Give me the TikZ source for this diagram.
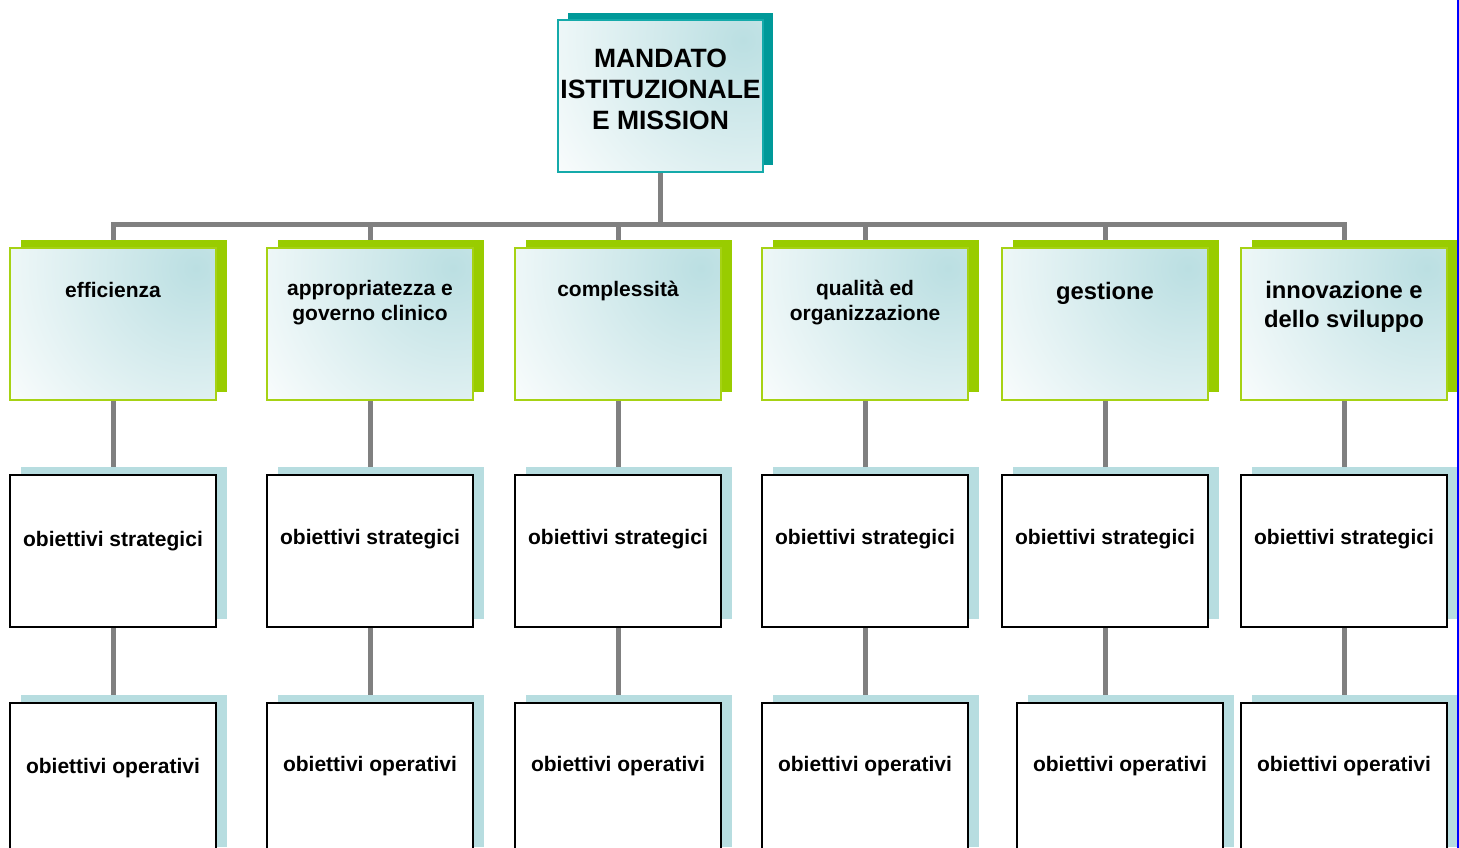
\documentclass[tikz,border=0pt]{standalone}
\usepackage{fontspec}
\setmainfont{Liberation Sans}
\usetikzlibrary{shadows,calc}
\definecolor{tealshadow}{RGB}{0,153,153}
\definecolor{tealborder}{RGB}{20,170,170}
\definecolor{greenc}{RGB}{153,204,0}
\definecolor{greenborder}{RGB}{166,210,20}
\definecolor{lightshadow}{RGB}{183,221,224}
\definecolor{gradblue}{RGB}{187,223,226}
\definecolor{linegray}{RGB}{128,128,128}
\pgfdeclarelayer{background}
\pgfsetlayers{background,main}
\tikzset{
  base box/.style={rectangle, minimum width=206pt, minimum height=152pt, inner sep=0pt},
  glow/.style={fill=white, path picture={
      \shade[inner color=gradblue, outer color=white]
        ([shift={(-20pt,-20pt)}]path picture bounding box.north east) circle (250pt);}},
  topbox/.style={base box, minimum width=205pt, draw=tealborder, line width=1.5pt, glow,
    general shadow={fill=tealshadow, shadow xshift=10pt, shadow yshift=7pt}},
  greenbox/.style={base box, draw=greenborder, line width=1.6pt, glow,
    general shadow={fill=greenc, shadow xshift=11pt, shadow yshift=8pt}},
  blackbox/.style={base box, draw=black, line width=1.8pt, fill=white,
    general shadow={fill=lightshadow, shadow xshift=11pt, shadow yshift=8pt}},
  lbl/.style={anchor=base, align=center, inner sep=0pt, text=black},
  fbig/.style={font=\fontsize{26.5}{31}\selectfont\bfseries},
  fmid/.style={font=\fontsize{21}{25}\selectfont\bfseries},
  flarge/.style={font=\fontsize{23.8}{29}\selectfont\bfseries},
  conn/.style={draw=linegray, line width=5pt},
}
\begin{document}
\begin{tikzpicture}[x=1pt,y=-1pt]
\useasboundingbox (0,0) rectangle (1459,848);

% top box
\node[topbox] (top) at (660.5,96) {};
\node[lbl,fbig] (ttop) at ($(top.north)+(0,110)$) {MANDATO\\ISTITUZIONALE\\E MISSION};

% green boxes
\node[greenbox] (g1) at (113,324) {};
\node[greenbox] (g2) at (370,324) {};
\node[greenbox] (g3) at (618,324) {};
\node[greenbox] (g4) at (865,324) {};
\node[greenbox] (g5) at (1105,324) {};
\node[greenbox] (g6) at (1344,324) {};

\node[lbl,fmid] (tg1) at ($(g1.north)+(0,50)$) {efficienza};
\node[lbl,fmid] (tg2) at ($(g2.north)+(0,73)$) {appropriatezza e\\governo clinico};
\node[lbl,fmid] (tg3) at ($(g3.north)+(0,49)$) {complessità};
\node[lbl,fmid] (tg4) at ($(g4.north)+(0,73)$) {qualità ed\\organizzazione};
\node[lbl,flarge] (tg5) at ($(g5.north)+(0,52)$) {gestione};
\node[lbl,flarge] (tg6) at ($(g6.north)+(0,80)$) {innovazione e\\dello sviluppo};

% strategic boxes
\node[blackbox] (s1) at (113,551) {};
\node[blackbox] (s2) at (370,551) {};
\node[blackbox] (s3) at (618,551) {};
\node[blackbox] (s4) at (865,551) {};
\node[blackbox] (s5) at (1105,551) {};
\node[blackbox] (s6) at (1344,551) {};
\node[lbl,fmid] (ts1) at ($(s1.north)+(0,72)$) {obiettivi strategici};
\node[lbl,fmid] (ts2) at ($(s2.north)+(0,70)$) {obiettivi strategici};
\node[lbl,fmid] (ts3) at ($(s3.north)+(0,70)$) {obiettivi strategici};
\node[lbl,fmid] (ts4) at ($(s4.north)+(0,70)$) {obiettivi strategici};
\node[lbl,fmid] (ts5) at ($(s5.north)+(0,70)$) {obiettivi strategici};
\node[lbl,fmid] (ts6) at ($(s6.north)+(0,70)$) {obiettivi strategici};

% operative boxes
\node[blackbox] (o1) at (113,779) {};
\node[blackbox] (o2) at (370,779) {};
\node[blackbox] (o3) at (618,779) {};
\node[blackbox] (o4) at (865,779) {};
\node[blackbox] (o5) at (1120,779) {};
\node[blackbox] (o6) at (1344,779) {};
\node[lbl,fmid] (to1) at ($(o1.north)+(0,71)$) {obiettivi operativi};
\node[lbl,fmid] (to2) at ($(o2.north)+(0,69)$) {obiettivi operativi};
\node[lbl,fmid] (to3) at ($(o3.north)+(0,69)$) {obiettivi operativi};
\node[lbl,fmid] (to4) at ($(o4.north)+(0,69)$) {obiettivi operativi};
\node[lbl,fmid] (to5) at ($(o5.north)+(0,69)$) {obiettivi operativi};
\node[lbl,fmid] (to6) at ($(o6.north)+(0,69)$) {obiettivi operativi};

\begin{pgfonlayer}{background}
  \fill[white] (0,0) rectangle (1459,848);
  \foreach \i in {1,...,6} {
    \draw[conn] (top.south) -- ++(0,52) -| (g\i.north);
    \draw[conn] (g\i.south) -- (s\i.north);
    \draw[conn] (s\i.south) -- (s\i.south |- o\i.north);
  }
\end{pgfonlayer}

% right border line
\draw[blue, line width=2pt] (1458,0) -- (1458,848);
\end{tikzpicture}
\end{document}
